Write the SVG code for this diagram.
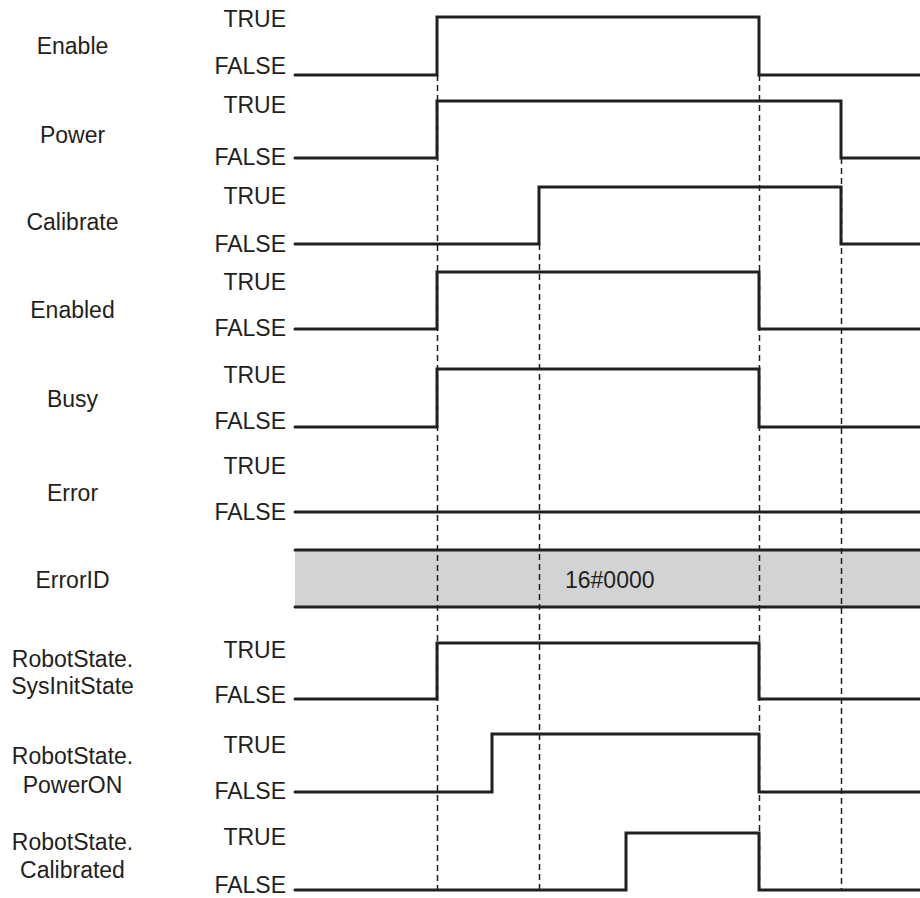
<svg xmlns="http://www.w3.org/2000/svg" width="920" height="898" viewBox="0 0 920 898">
<style>
text{font-family:"Liberation Sans",Arial,sans-serif;font-size:23px;fill:#231f20}
.n{text-anchor:middle}
.l{text-anchor:end}
.w{fill:none;stroke:#231f20;stroke-width:3;stroke-linejoin:miter;stroke-linecap:round}
.d{fill:none;stroke:#231f20;stroke-width:1.5;stroke-dasharray:6 4}
</style>
<rect width="920" height="898" fill="#fff"/>
<g id="errorid-band">
<rect x="295" y="550" width="625" height="57" fill="#d1d3d4"/>
</g>
<g id="connectors">
<path class="d" d="M437.5,75V890"/>
<path class="d" d="M539.5,244V890"/>
<path class="d" d="M759.5,75V890"/>
<path class="d" d="M841.5,158V890"/>
</g>
<g id="enable">
<text class="n" x="72.5" y="54">Enable</text>
<text class="l" x="286" y="27">TRUE</text>
<text class="l" x="286" y="74">FALSE</text>
<path class="w" d="M295,75H437V17H759V75H920"/>
</g>
<g id="power">
<text class="n" x="72.5" y="143">Power</text>
<text class="l" x="286" y="113">TRUE</text>
<text class="l" x="286" y="165">FALSE</text>
<path class="w" d="M295,158H437V101H841V158H920"/>
</g>
<g id="calibrate">
<text class="n" x="72.5" y="230">Calibrate</text>
<text class="l" x="286" y="204">TRUE</text>
<text class="l" x="286" y="252">FALSE</text>
<path class="w" d="M295,244H539V187H841V244H920"/>
</g>
<g id="enabled">
<text class="n" x="72.5" y="318">Enabled</text>
<text class="l" x="286" y="290">TRUE</text>
<text class="l" x="286" y="336">FALSE</text>
<path class="w" d="M295,329H437V272H759V329H920"/>
</g>
<g id="busy">
<text class="n" x="72.5" y="407">Busy</text>
<text class="l" x="286" y="383">TRUE</text>
<text class="l" x="286" y="429">FALSE</text>
<path class="w" d="M295,427H437V369H759V427H920"/>
</g>
<g id="error">
<text class="n" x="72.5" y="501">Error</text>
<text class="l" x="286" y="474">TRUE</text>
<text class="l" x="286" y="520">FALSE</text>
<path class="w" d="M295,512H920"/>
</g>
<g id="errorid">
<text class="n" x="72.5" y="588">ErrorID</text>
<path class="w" d="M295,550H920M295,607H920"/>
<text x="565" y="588">16#0000</text>
</g>
<g id="sysinitstate">
<text class="n" x="72.5" y="667">RobotState.</text>
<text class="n" x="72.5" y="694">SysInitState</text>
<text class="l" x="286" y="658">TRUE</text>
<text class="l" x="286" y="703">FALSE</text>
<path class="w" d="M295,699H437V643H759V699H920"/>
</g>
<g id="poweron">
<text class="n" x="72.5" y="764">RobotState.</text>
<text class="n" x="72.5" y="793">PowerON</text>
<text class="l" x="286" y="753">TRUE</text>
<text class="l" x="286" y="799">FALSE</text>
<path class="w" d="M295,792H492V734H759V792H920"/>
</g>
<g id="calibrated">
<text class="n" x="72.5" y="850">RobotState.</text>
<text class="n" x="72.5" y="878">Calibrated</text>
<text class="l" x="286" y="845">TRUE</text>
<text class="l" x="286" y="893">FALSE</text>
<path class="w" d="M295,890H626V833H759V890H920"/>
</g>
</svg>
